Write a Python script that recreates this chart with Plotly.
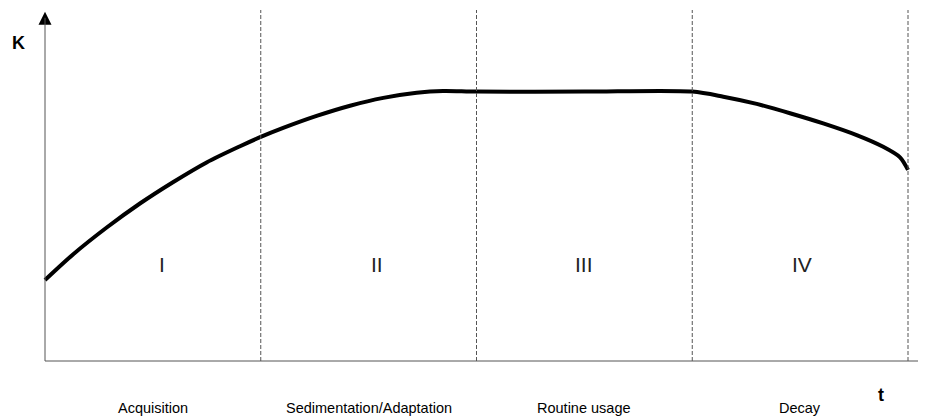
import plotly.graph_objects as go

# ---- data ----
t_values = [0.0, 0.131, 0.286, 0.440, 0.593, 0.749, 0.904, 1.0, 1.104, 1.259, 1.414,
            1.568, 1.723, 1.845, 2.0, 2.5, 3.0, 3.144, 3.299, 3.453, 3.607, 3.762,
            3.885, 3.963, 4.0]
k_values = [27.0, 35.6, 44.5, 52.5, 59.6, 66.2, 71.6, 74.7, 77.7, 81.7, 85.1,
            87.7, 89.4, 90.0, 89.8, 89.8, 89.8, 88.1, 85.7, 82.6, 79.2, 75.3,
            71.4, 67.9, 63.7]
phase_bounds = [1, 2, 3, 4]
phase_numerals = ["I", "II", "III", "IV"]
numeral_x = [0.54, 1.54, 2.50, 3.51]
phase_names = ["Acquisition", "Sedimentation/Adaptation", "Routine usage", "Decay"]
phase_name_x = [0.5, 1.5, 2.5, 3.5]

# ---- layout constants (page has an 8px body margin, compensated in ranges) ----
X_RANGE = [-0.1715, 4.0834]
Y_RANGE = [-19.33, 117.67]
Y_TIP = 116.4
X_TIP = 4.107
DASH_TOP = 117
FONT = "Arial, Liberation Sans, sans-serif"

fig = go.Figure()

# curve
fig.add_trace(go.Scatter(
    x=t_values, y=k_values, mode="lines",
    line=dict(color="black", width=4, shape="spline", smoothing=0.8),
    hoverinfo="skip", showlegend=False))

# axis arrowheads
fig.add_trace(go.Scatter(
    x=[0], y=[Y_TIP], mode="markers", cliponaxis=False,
    marker=dict(symbol="arrow-up", size=13, color="black", line=dict(width=0)),
    hoverinfo="skip", showlegend=False))
fig.add_trace(go.Scatter(
    x=[X_TIP], y=[0], mode="markers", cliponaxis=False,
    marker=dict(symbol="arrow-right", size=13, color="black", line=dict(width=0)),
    hoverinfo="skip", showlegend=False))

shapes = [
    dict(type="line", x0=0, x1=0, y0=0, y1=Y_TIP - 2, xref="x", yref="y",
         line=dict(color="#555", width=1)),
    dict(type="line", x0=0, x1=X_TIP - 0.02, y0=0, y1=0, xref="x", yref="y",
         line=dict(color="#555", width=1)),
]
for b in phase_bounds:
    shapes.append(dict(type="line", x0=b, x1=b, y0=0, y1=DASH_TOP, xref="x", yref="y",
                       line=dict(color="#555", width=1, dash="4px,2px")))

annotations = []
for nx, lab in zip(numeral_x, phase_numerals):
    annotations.append(dict(x=nx, y=32.1, text=lab, showarrow=False,
                            font=dict(family=FONT, size=21, color="#222")))
for px, lab in zip(phase_name_x, phase_names):
    annotations.append(dict(x=px, y=-15.7, text=lab, showarrow=False,
                            font=dict(family=FONT, size=14.5, color="black")))
annotations.append(dict(x=-0.121, y=106, text="<b>K</b>", showarrow=False,
                        font=dict(family=FONT, size=18, color="black")))
annotations.append(dict(x=3.874, y=-11.3, text="<b>t</b>", showarrow=False,
                        font=dict(family=FONT, size=18, color="black")))

fig.update_layout(
    width=918, height=411,
    margin=dict(l=0, r=0, t=0, b=0),
    paper_bgcolor="white", plot_bgcolor="white",
    xaxis=dict(range=X_RANGE, visible=False, fixedrange=True),
    yaxis=dict(range=Y_RANGE, visible=False, fixedrange=True),
    shapes=shapes, annotations=annotations,
)

fig.write_html("out.html")
